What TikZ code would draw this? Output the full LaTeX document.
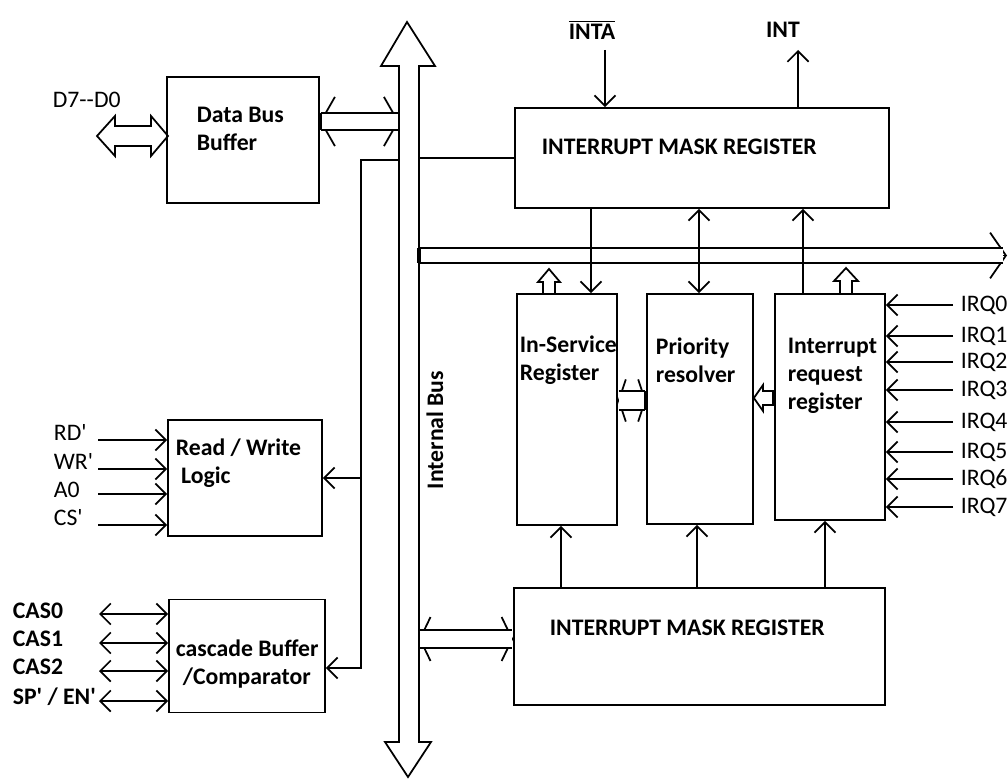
\documentclass[tikz,border=0pt]{standalone}
\usepackage{fontspec}
\setmainfont{Carlito}[Ligatures=TeXOff]
\usetikzlibrary{arrows.meta}

\tikzset{
  blk/.style={draw, inner sep=0pt},
  txt/.style={font=\fontsize{13.5}{16}\selectfont\bfseries, align=left, inner sep=0pt},
  pin/.style={font=\fontsize{13.5}{16}\selectfont, inner sep=0pt},
  wide/.style={double, double distance=#1, shorten <=0.5pt, shorten >=0.5pt},
  heavy/.style={line width=2.4pt},
}

\begin{document}
\begin{tikzpicture}[x=0.02cm, y=-0.02cm, line width=1pt,
    >={Straight Barb[length=6pt,width=12pt]}]
\useasboundingbox (0,0) rectangle (1008,780);

% blocks
\node[blk, minimum width=3.04cm, minimum height=2.52cm] (dbb) at (243,140) {};
\node[blk, minimum width=3.08cm, minimum height=2.32cm] (rwl) at (245,478) {};
\node[blk, minimum width=3.12cm, minimum height=2.26cm] (cbc) at (247,656) {};
\node[blk, minimum width=7.48cm, minimum height=2cm] (imrtop) at (702,158) {};
\node[blk, minimum width=2cm, minimum height=4.62cm] (isr) at (567,409.5) {};
\node[blk, minimum width=2.12cm, minimum height=4.6cm] (pr) at (700,409) {};
\node[blk, minimum width=2.2cm, minimum height=4.52cm] (irr) at (830,407) {};
\node[blk, minimum width=7.42cm, minimum height=2.34cm] (imrbot) at (699.5,646.5) {};

\node[txt, anchor=west] (dbbtxt) at (196,129) {Data Bus\\Buffer};
\node[txt, anchor=west] (rwltxt) at (175,463) {Read / Write\\\hspace{3pt}Logic};
\node[txt, anchor=west] (cbctxt) at (175,664) {cascade Buffer\\\hspace{4pt}/Comparator};
\node[txt, anchor=west] (imrtoptxt) at (541,147) {INTERRUPT MASK REGISTER};
\node[txt, anchor=west] (isrtxt) at (519,360) {In-Service\\Register};
\node[txt, anchor=west] (prtxt) at (655,360) {Priority\\resolver};
\node[txt, anchor=west] (irrtxt) at (787,376) {Interrupt\\request\\register};
\node[txt, anchor=west] (imrbottxt) at (549,628) {INTERRUPT MASK REGISTER};
\node[txt, rotate=90] (busname) at (435,430) {Internal Bus};

% internal bus
\draw (399,66) -- (381,66) -- (407,22) -- (435,66) -- (419,66) -- (419,742)
  -- (431,742) -- (408,777) -- (385,742) -- (399,742) -- cycle;
\coordinate (busL) at (399,400);
\coordinate (busR) at (419,400);

% data lines
\node[pin, anchor=west] (dpins) at (52,100) {D7--D0};
\draw (97,136) -- (115,116) -- (115,126) -- (151,126) -- (151,116) -- (168,136)
  -- (151,156) -- (151,146) -- (115,146) -- (115,156) -- cycle;

% buffer <-> internal bus
\draw[{Straight Barb[length=8pt,width=28pt]}-{Straight Barb[length=8pt,width=28pt]}]
  (dbb.east |- 0,121.5) -- (busL |- 0,121.5);
\draw[wide=8.6pt] (dbb.east |- 0,121.5) -- (busL |- 0,121.5);
\draw[heavy] (dbb.east |- 0,113) -- (dbb.east |- 0,130);

% bus to the registers
\coordinate (busend) at (1007,255.5);
\draw[-{Straight Barb[length=9pt,width=26pt]}] (busR |- busend) -- (busend);
\draw[double, double distance=7.6pt, shorten <=0.5pt] (busR |- busend) -- ([xshift=-2pt]busend);
\draw[heavy] (busR |- 0,248) -- (busR |- 0,263);
\draw (busR |- imrtop.west) -- (imrtop.west);

% bus to read/write logic and cascade buffer
\coordinate (tap) at (361,160);
\draw[->] (busL |- tap) -- (tap) |- ([yshift=-6.8pt]cbc.east);
\draw[->] (tap |- rwl.east) -- (rwl.east);

% bus <-> lower mask register
\draw[{Straight Barb[length=6pt,width=25pt]}-{Straight Barb[length=6pt,width=25pt]}]
  (busR |- 0,639) -- (imrbot.west |- 0,639);
\draw[wide=9.2pt] (busR |- 0,639) -- (imrbot.west |- 0,639);

% INTA / INT
\node[txt] (inta) at (592,30) {$\overline{\hbox{INTA}}$};
\node[txt] (int) at (783,30) {INT};
\coordinate (intain) at (605,50);
\coordinate (intout) at (798,50);
\draw[->] (intain) -- (intain |- imrtop.north);
\draw[->] (intout |- imrtop.north) -- (intout);

% upper mask register <-> registers
\draw[->] (591,0 |- imrtop.south) -- (591,0 |- isr.north);
\draw[<->] (699,0 |- imrtop.south) -- (699,0 |- pr.north);
\draw[->] (803,0 |- irr.north) -- (803,0 |- imrtop.south);

% lower mask register -> registers
\draw[->] (561,0 |- imrbot.north) -- (561,0 |- isr.south);
\draw[->] (697,0 |- imrbot.north) -- (697,0 |- pr.south);
\draw[->] (825,0 |- imrbot.north) -- (825,0 |- irr.south);

% small hollow arrows
\draw (543,294) -- (543,282) -- (538,282) -- (549,269) -- (560,282) -- (555,282) -- (555,294);
\draw (840,294) -- (840,281) -- (834,281) -- (846,268) -- (858,281) -- (852,281) -- (852,294);

% ISR <-> priority resolver
\draw[{Straight Barb[length=4pt,width=24pt]}-{Straight Barb[length=4pt,width=24pt]}]
  (isr.east |- 0,400.5) -- (pr.west |- 0,400.5);
\draw[wide=9.8pt] (isr.east |- 0,400.5) -- (pr.west |- 0,400.5);
\draw[heavy] (pr.west |- 0,391) -- (pr.west |- 0,410);

% IRR -> priority resolver
\draw (irr.west |- 0,391) -- (763,391) -- (763,385) -- (pr.east |- 0,398)
  -- (763,411) -- (763,405) -- (irr.west |- 0,405);
\draw[heavy] (irr.west |- 0,391) -- (irr.west |- 0,405);

% read/write inputs
\node[pin, anchor=west] (rd) at (53,432) {RD'};
\node[pin, anchor=west] (wr) at (53,461) {WR'};
\node[pin, anchor=west] (azero) at (53,490) {A0};
\node[pin, anchor=west] (cs) at (53,518) {CS'};
\draw[->] (rd.west) ++(45,8) coordinate (rdin) -- (rdin -| rwl.west);
\draw[->] (wr.west) ++(45,8) coordinate (wrin) -- (wrin -| rwl.west);
\draw[->] (azero.west) ++(45,4) coordinate (azeroin) -- (azeroin -| rwl.west);
\draw[->] (cs.west) ++(45,7) coordinate (csin) -- (csin -| rwl.west);

% cascade lines
\node[txt, anchor=west] (cas0) at (12,611) {CAS0};
\node[txt, anchor=west] (cas1) at (12,639) {CAS1};
\node[txt, anchor=west] (cas2) at (12,667) {CAS2};
\node[txt, anchor=west] (spen) at (12,697) {SP' / EN'};
\draw[<->] (cas0.west) ++(87,3) coordinate (cas0in) -- (cas0in -| cbc.west);
\draw[<->] (cas1.west) ++(87,4) coordinate (cas1in) -- (cas1in -| cbc.west);
\draw[<->] (cas2.west) ++(87,4) coordinate (cas2in) -- (cas2in -| cbc.west);
\draw[<->] (spen.west) ++(87,4) coordinate (spenin) -- (spenin -| cbc.west);

% interrupt requests
\node[pin, anchor=west] (irq0) at (960,305) {IRQ0};
\node[pin, anchor=west] (irq1) at (960,336) {IRQ1};
\node[pin, anchor=west] (irq2) at (960,362) {IRQ2};
\node[pin, anchor=west] (irq3) at (960,390) {IRQ3};
\node[pin, anchor=west] (irq4) at (960,422) {IRQ4};
\node[pin, anchor=west] (irq5) at (960,452) {IRQ5};
\node[pin, anchor=west] (irq6) at (960,479) {IRQ6};
\node[pin, anchor=west] (irq7) at (960,507) {IRQ7};
\draw[->] (irq0.west) ++(-7,0) -- (irq0 -| irr.east);
\draw[->] (irq1.west) ++(-7,0) -- (irq1 -| irr.east);
\draw[->] (irq2.west) ++(-7,0) -- (irq2 -| irr.east);
\draw[->] (irq3.west) ++(-7,0) -- (irq3 -| irr.east);
\draw[->] (irq4.west) ++(-7,0) -- (irq4 -| irr.east);
\draw[->] (irq5.west) ++(-7,0) -- (irq5 -| irr.east);
\draw[->] (irq6.west) ++(-7,0) -- (irq6 -| irr.east);
\draw[->] (irq7.west) ++(-7,0) -- (irq7 -| irr.east);
\end{tikzpicture}
\end{document}
